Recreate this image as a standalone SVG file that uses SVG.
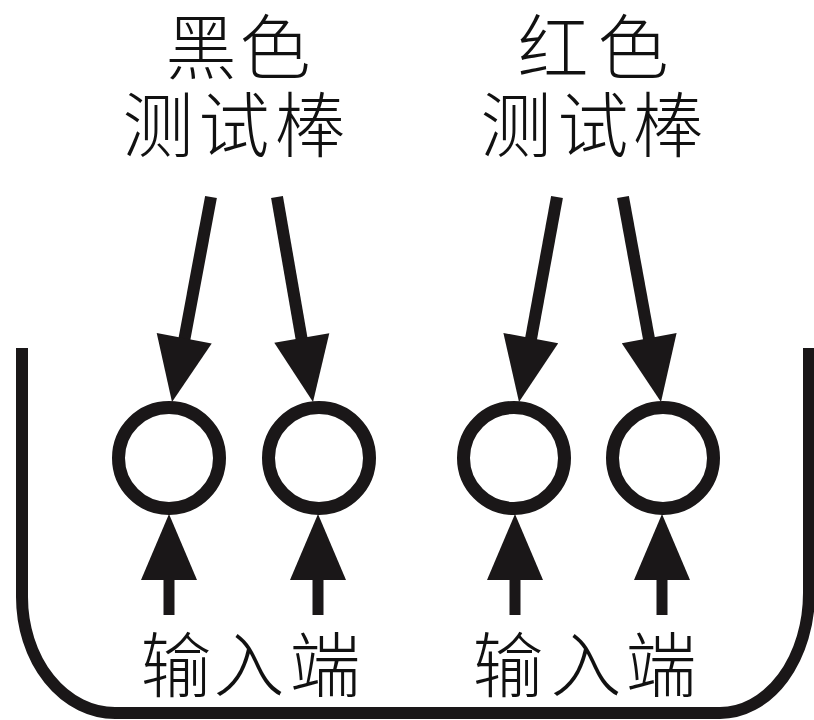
<svg xmlns="http://www.w3.org/2000/svg" width="814" height="720" viewBox="0 0 814 720">
<style>
.t{font-family:"Noto Sans CJK SC","Noto Sans CJK TC",sans-serif;font-size:71px;font-weight:300;fill:#111;text-anchor:middle}
.tray{fill:none;stroke:#1a1718;stroke-width:12}
.ring{fill:#fff;stroke:#1a1718;stroke-width:13}
.shaft{stroke:#1a1718;stroke-width:12;stroke-linecap:butt}
.head{fill:#1a1718}
</style>
<rect width="814" height="720" fill="#fff"/>
<g id="tray"><path class="tray" d="M22,348 V597 A93,116 0 0 0 115,713 H720 A89,120 0 0 0 809,593 V348"/></g>
<g id="label-black"><text class="t" x="201 275" y="73">黑色</text><text class="t" x="158 234 310" y="151">测试棒</text></g>
<g id="label-red"><text class="t" x="553 633" y="73">红色</text><text class="t" x="516 593 668" y="151">测试棒</text></g>
<g id="terminal-1"><circle class="ring" cx="169" cy="458" r="50.5"/></g>
<g id="terminal-2"><circle class="ring" cx="319" cy="458" r="50.5"/></g>
<g id="terminal-3"><circle class="ring" cx="514" cy="458" r="50.5"/></g>
<g id="terminal-4"><circle class="ring" cx="663" cy="458" r="50.5"/></g>
<g id="label-input-left"><text class="t" x="176 249 325" y="691">输入端</text></g>
<g id="label-input-right"><text class="t" x="508 586 661" y="691">输入端</text></g>
<g id="connectors">
<line class="shaft" x1="211" y1="197" x2="184.2" y2="340"/><polygon class="head" points="172,402 211.7,343.4 156.7,333"/>
<line class="shaft" x1="277" y1="197" x2="301.8" y2="340"/><polygon class="head" points="313,402 329.3,333.2 274.3,342.8"/>
<line class="shaft" x1="557" y1="197" x2="530.8" y2="340"/><polygon class="head" points="519,402 558.2,343.2 503.4,333"/>
<line class="shaft" x1="623" y1="197" x2="649.2" y2="340"/><polygon class="head" points="661,402 676.6,333 621.8,343.2"/>
<line class="shaft" x1="169" y1="615" x2="169" y2="578" style="stroke-width:11"/><polygon class="head" points="169,514 141,580 197,580"/>
<line class="shaft" x1="318" y1="615" x2="318" y2="578" style="stroke-width:11"/><polygon class="head" points="318,514 290,580 346,580"/>
<line class="shaft" x1="515" y1="615" x2="515" y2="578" style="stroke-width:11"/><polygon class="head" points="515,514 487,580 543,580"/>
<line class="shaft" x1="662" y1="615" x2="662" y2="578" style="stroke-width:11"/><polygon class="head" points="662,514 634,580 690,580"/>
</g>
</svg>
